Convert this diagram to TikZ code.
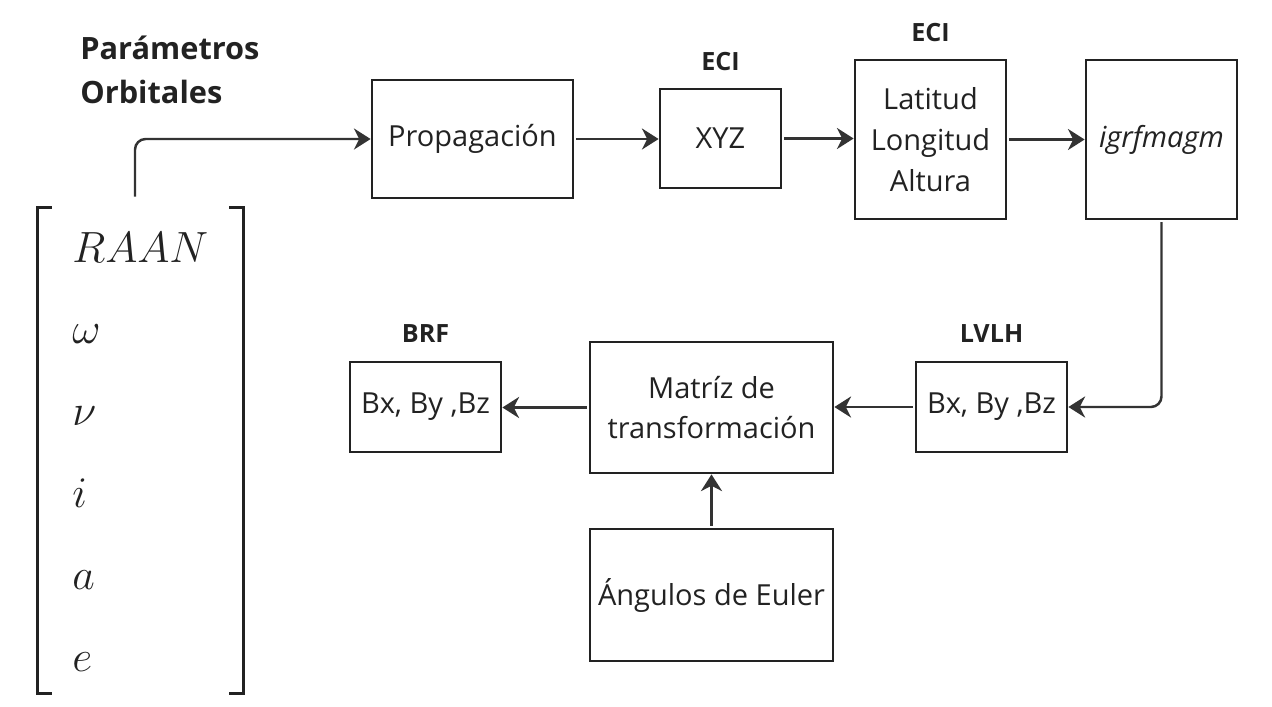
\documentclass[tikz,border=0pt]{standalone}
\usepackage{fontspec}
\setmainfont{Open Sans}
\usetikzlibrary{arrows.meta,positioning}

\definecolor{ink}{HTML}{222222}
\definecolor{wire}{HTML}{333333}

\tikzset{
  >={Stealth[length=9.5pt,width=12pt,inset=3pt]},
  box/.style={draw=ink, line width=1.6pt, text=ink, align=center, inner sep=0pt,
    font=\fontsize{16.5}{23.3}\selectfont},
  tag/.style={font=\fontsize{14.3}{17}\selectfont\bfseries, text=ink, inner sep=0pt, outer sep=0pt},
  arr/.style={->, draw=wire, line width=1.4pt, shorten <=1pt},
  brk/.style={draw=ink, line width=1.7pt},
  entry/.style={anchor=base west, inner sep=0pt, text=ink, font=\fontsize{25}{30}\selectfont}
}

\begin{document}
\begin{tikzpicture}[x=0.02cm, y=-0.02cm]
\useasboundingbox (0,0) rectangle (1272,707);

\node[anchor=base west, align=left, inner sep=0pt, text=ink, font=\fontsize{17.5}{24.5}\selectfont\bfseries] (title) at (80,103) {Parámetros\\Orbitales};

% orbital parameters vector
\node[minimum width=4.1cm, minimum height=9.7cm, inner sep=0pt] (param) at (140.5,450.5) {};
\draw[brk] ([xshift=0.28cm]param.north west) -- (param.north west) -- (param.south west) -- ++(0.28cm,0);
\draw[brk] ([xshift=-0.28cm]param.north east) -- (param.north east) -- (param.south east) -- ++(-0.28cm,0);
\foreach \e [count=\k from 0] in {RAAN,\omega,\nu,i,a,e}
  \node[entry] (v\k) at (72,262+81.8*\k) {$\e$};

\node[box, minimum width=4.02cm, minimum height=2.36cm] (prop) at (472.5,139) {Propagación};
\node[box, minimum width=2.42cm, minimum height=1.98cm] (xyz) at (720.5,138.5) {XYZ};
\node[box, minimum width=3.02cm, minimum height=3.18cm] (geo) at (930.5,139.5) {Latitud\\Longitud\\Altura};
\node[box, minimum width=3.02cm, minimum height=3.18cm] (igrf) at (1161.5,139.5) {\textit{igrfmagm}};

\node[box, minimum width=3.02cm, minimum height=1.8cm] (lvlh) at (991.5,407) {Bx, By ,Bz};
\node[box, minimum width=4.86cm, minimum height=2.62cm] (mat) at (711.5,407.5) {Matríz de\\transformación};
\node[box, minimum width=3.02cm, minimum height=1.8cm] (brf) at (425.5,407) {Bx, By ,Bz};
\node[box, minimum width=4.86cm, minimum height=2.64cm] (euler) at (711.5,595) {Ángulos de Euler};

% frame names
\node[tag, anchor=base] (xyztag) at ([yshift=10pt]xyz.north) {ECI};
\node[tag, anchor=base] (geotag) at ([yshift=10pt]geo.north) {ECI};
\node[tag, anchor=base] (lvlhtag) at ([yshift=10.5pt]lvlh.north) {LVLH};
\node[tag, anchor=base] (brftag) at ([yshift=10.5pt]brf.north) {BRF};

\draw[arr, rounded corners=6pt, shorten <=0.22cm] ([xshift=-0.11cm]param.north) |- (prop.west);
\draw[arr] (prop.east) -- (prop.east -| xyz.west);
\draw[arr] (xyz.east) -- (xyz.east -| geo.west);
\draw[arr] (geo.east) -- (igrf.west);
\draw[arr, rounded corners=6pt] (igrf.south) |- (lvlh.east);
\draw[arr] (lvlh.west) -- (lvlh.west -| mat.east);
\draw[arr] (mat.west) -- (mat.west -| brf.east);
\draw[arr] (euler.north) -- (mat.south);

\end{tikzpicture}
\end{document}
